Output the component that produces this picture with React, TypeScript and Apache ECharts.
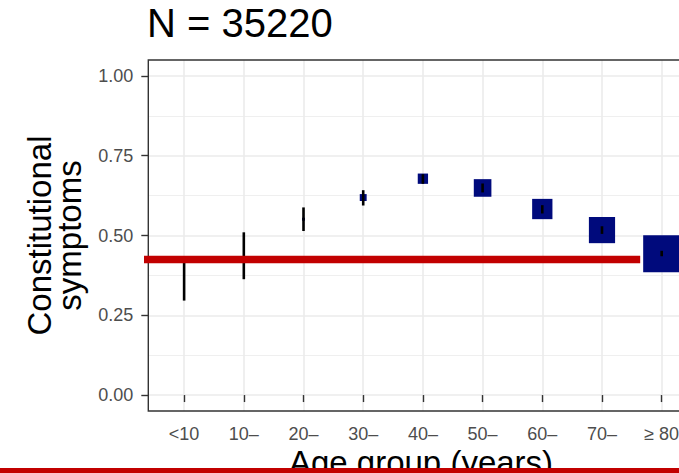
import React, { useEffect, useRef } from "react";
import * as echarts from "echarts";

// Share of patients with constitutional symptoms, by age group
const ageGroups = ["<10", "10–", "20–", "30–", "40–", "50–", "60–", "70–", "≥ 80"];
const proportion = [0.36, 0.436, 0.551, 0.619, 0.678, 0.649, 0.583, 0.517, 0.443];
const ciLower = [0.296, 0.363, 0.514, 0.594, 0.662, 0.635, 0.569, 0.505, 0.435];
const ciUpper = [0.428, 0.51, 0.588, 0.642, 0.692, 0.663, 0.595, 0.529, 0.452];
const groupSize = [12, 27, 108, 570, 1270, 3710, 4930, 8210, 16383];

// Axis ticks
const yTicks = [0, 0.25, 0.5, 0.75, 1];
const yMinorTicks = [0.125, 0.375, 0.625, 0.875];
const xTicks = ageGroups.map((_, i) => i + 1);

// Overall rate reference line and the x-span it is drawn over
const overallRate = 0.425;
const overallSpan = [0.26, 8.64];

const totalN = groupSize.reduce((a, b) => a + b, 0);
const maxN = Math.max(...groupSize);

// Layout / style
const W = 679;
const H = 473;
const GRID_LEFT = 148.3;
const GRID_TOP = 60;
const GRID_RIGHT = -18.5;
const GRID_BOTTOM = 62;
const MAX_SQUARE = 37;
const FONT = "'Liberation Sans', Arial, Helvetica, sans-serif";
const RED = "#c20000";
const NAVY = "#000a7c";

export default function App() {
  const ref = useRef<HTMLDivElement>(null);

  useEffect(() => {
    if (!ref.current) return;
    const chart = echarts.init(ref.current, undefined, { renderer: "svg" });

    const gridW = W - GRID_LEFT - GRID_RIGHT;
    const gridH = H - GRID_TOP - GRID_BOTTOM;

    chart.setOption({
      animation: false,
      backgroundColor: "#ffffff",
      title: {
        text: `N = ${totalN}`,
        left: 147,
        top: 3,
        padding: 0,
        textStyle: {
          fontFamily: FONT,
          fontSize: 40,
          fontWeight: "normal",
          color: "#000000",
          lineHeight: 40,
        },
      },
      grid: {
        left: GRID_LEFT,
        top: GRID_TOP,
        right: GRID_RIGHT,
        bottom: GRID_BOTTOM,
        containLabel: false,
        outerBoundsMode: "none",
        show: false,
      },
      xAxis: {
        type: "value",
        min: 0.4,
        max: 9.6,
        axisLine: { show: false },
        axisTick: {
          show: true,
          customValues: xTicks,
          length: 7,
          lineStyle: { color: "#333333", width: 1.4 },
        },
        axisLabel: {
          customValues: xTicks,
          formatter: (v: number) => ageGroups[Math.round(v) - 1] ?? "",
          margin: 14,
          fontFamily: FONT,
          fontSize: 18,
          lineHeight: 18,
          color: "#4d4d4d",
        },
        splitLine: { show: true, lineStyle: { color: "#ebebeb", width: 1.6 } },
      },
      yAxis: [
        {
          type: "value",
          min: -0.05,
          max: 1.05,
          axisLine: { show: false },
          axisTick: {
            show: true,
            customValues: yTicks,
            length: 7,
            lineStyle: { color: "#333333", width: 1.4 },
          },
          axisLabel: {
            customValues: yTicks,
            formatter: (v: number) => v.toFixed(2),
            margin: 15,
            fontFamily: FONT,
            fontSize: 18,
            color: "#4d4d4d",
          },
          splitLine: { show: true, lineStyle: { color: "#ebebeb", width: 1.6 } },
        },
        {
          type: "value",
          position: "right",
          min: -0.05,
          max: 1.05,
          axisLine: { show: false },
          axisTick: { show: false, customValues: yMinorTicks },
          axisLabel: { show: false, customValues: yMinorTicks },
          splitLine: { show: true, lineStyle: { color: "#efefef", width: 1.1 } },
        },
      ],
      graphic: [
        {
          type: "rect",
          z: 3,
          silent: true,
          shape: { x: GRID_LEFT, y: GRID_TOP, width: gridW, height: gridH },
          style: { fill: "none", stroke: "#333333", lineWidth: 1.4 },
        },
        {
          type: "text",
          z: 3,
          x: 54.75,
          y: GRID_TOP + gridH / 2,
          rotation: Math.PI / 2,
          style: {
            text: "Constitutional\nsymptoms",
            fontFamily: FONT,
            fontSize: 33,
            lineHeight: 30,
            fill: "#000000",
            align: "center",
            verticalAlign: "middle",
          },
        },
        {
          type: "text",
          z: 3,
          x: 421,
          y: 462,
          style: {
            text: "Age group (years)",
            fontFamily: FONT,
            fontSize: 33,
            fill: "#000000",
            align: "center",
            verticalAlign: "middle",
          },
        },
        {
          type: "rect",
          z: 10,
          silent: true,
          shape: { x: 0, y: 468, width: W, height: 6 },
          style: { fill: RED },
        },
      ],
      series: [
        {
          type: "scatter",
          z: 4,
          symbol: "rect",
          data: ageGroups.map((_, i) => [i + 1, proportion[i], groupSize[i]]),
          symbolSize: (v: number[]) => MAX_SQUARE * Math.sqrt(v[2] / maxN),
          itemStyle: { color: NAVY, opacity: 1 },
          silent: true,
        },
        {
          type: "custom",
          z: 5,
          silent: true,
          data: ageGroups.map((_, i) => [i + 1, ciLower[i], ciUpper[i]]),
          encode: { x: 0, y: [1, 2] },
          renderItem: (_params: any, api: any) => {
            const x = api.value(0);
            const lo = api.coord([x, api.value(1)]);
            const hi = api.coord([x, api.value(2)]);
            return {
              type: "line",
              shape: { x1: lo[0], y1: lo[1], x2: hi[0], y2: hi[1] },
              style: { stroke: "#000000", lineWidth: 2.6 },
            };
          },
        },
        {
          type: "line",
          z: 6,
          clip: false,
          silent: true,
          symbol: "none",
          data: [
            [overallSpan[0], overallRate],
            [overallSpan[1], overallRate],
          ],
          lineStyle: { color: RED, width: 7.5, cap: "butt" },
        },
      ],
    });

    return () => chart.dispose();
  }, []);

  return (
    <div
      ref={ref}
      style={{ position: "fixed", left: 0, top: 0, width: W, height: H }}
    />
  );
}
